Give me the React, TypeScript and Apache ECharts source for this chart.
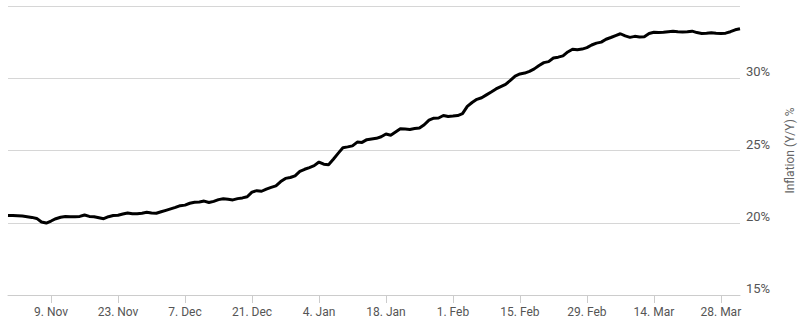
import React, { useEffect, useRef } from "react";
import * as echarts from "echarts";

const startDate = "2023-10-31";
const inflation: number[] = [
  20.51, 20.5, 20.48, 20.46, 20.42, 20.37, 20.3, 20.05, 19.98, 20.12,
  20.28, 20.38, 20.43, 20.42, 20.42, 20.44, 20.54, 20.44, 20.42, 20.35,
  20.28, 20.42, 20.5, 20.52, 20.6, 20.67, 20.62, 20.62, 20.66, 20.72,
  20.67, 20.66, 20.76, 20.86, 20.96, 21.06, 21.18, 21.22, 21.35, 21.42,
  21.44, 21.5, 21.4, 21.48, 21.6, 21.66, 21.62, 21.58, 21.67, 21.72,
  21.8, 22.12, 22.22, 22.18, 22.33, 22.45, 22.55, 22.85, 23.07, 23.13,
  23.25, 23.56, 23.7, 23.82, 23.95, 24.2, 24.05, 24.02, 24.4, 24.8,
  25.19, 25.25, 25.32, 25.58, 25.56, 25.75, 25.8, 25.84, 25.95, 26.14,
  26.06, 26.28, 26.5, 26.48, 26.46, 26.52, 26.55, 26.78, 27.1, 27.24,
  27.25, 27.42, 27.35, 27.38, 27.42, 27.55, 28.05, 28.32, 28.54, 28.65,
  28.85, 29.05, 29.26, 29.42, 29.58, 29.85, 30.15, 30.3, 30.36, 30.48,
  30.65, 30.88, 31.08, 31.15, 31.4, 31.46, 31.55, 31.82, 32.01, 31.98,
  32.02, 32.12, 32.3, 32.43, 32.5, 32.7, 32.82, 32.95, 33.08, 32.93,
  32.83, 32.9, 32.86, 32.88, 33.1, 33.18, 33.16, 33.18, 33.22, 33.26,
  33.22, 33.2, 33.22, 33.26, 33.16, 33.1, 33.12, 33.15, 33.12, 33.1,
  33.12, 33.22, 33.35, 33.42,
];
const tickLabels: string[] = [
  "9. Nov", "23. Nov", "7. Dec", "21. Dec", "4. Jan", "18. Jan",
  "1. Feb", "15. Feb", "29. Feb", "14. Mar", "28. Mar",
];
const yTicks: number[] = [15, 20, 25, 30, 35];
const yLabelsShown: number[] = [15, 20, 25, 30];
const yAxisName = "Inflation (Y/Y) %";

const MONTHS = ["Jan", "Feb", "Mar", "Apr", "May", "Jun", "Jul", "Aug", "Sep", "Oct", "Nov", "Dec"];

function buildDates(): string[] {
  const out: string[] = [];
  const d0 = new Date(startDate + "T00:00:00Z");
  for (let i = 0; i < inflation.length; i++) {
    const d = new Date(d0.getTime() + i * 86400000);
    out.push(d.getUTCDate() + ". " + MONTHS[d.getUTCMonth()]);
  }
  return out;
}

export default function App() {
  const ref = useRef<HTMLDivElement>(null);
  useEffect(() => {
    if (!ref.current) return;
    const chart = echarts.init(ref.current, undefined, { renderer: "svg" });
    const dates = buildDates();
    const showTick = (idx: number) => tickLabels.indexOf(dates[idx]) >= 0;
    chart.setOption({
      animation: false,
      grid: {
        left: 8,
        right: 60,
        top: 6,
        bottom: 38,
        containLabel: false,
        outerBoundsMode: "none",
      },
      xAxis: {
        type: "category",
        data: dates,
        boundaryGap: false,
        axisLine: { lineStyle: { color: "#cccccc", width: 1 } },
        axisTick: {
          show: true,
          length: 8,
          interval: (idx: number) => showTick(idx),
          lineStyle: { color: "#cccccc" },
        },
        axisLabel: {
          interval: (idx: number) => showTick(idx),
          color: "#555555",
          fontFamily: "Roboto",
          fontSize: 12,
          margin: 11,
        },
        splitLine: { show: false },
      },
      yAxis: {
        type: "value",
        position: "right",
        min: yTicks[0],
        max: yTicks[yTicks.length - 1],
        interval: 5,
        axisLine: { show: false },
        axisTick: { show: false },
        splitLine: { lineStyle: { color: "#d6d6d6", width: 1 } },
        axisLabel: {
          formatter: (v: number) => (yLabelsShown.indexOf(v) >= 0 ? v + "%" : ""),
          color: "#555555",
          fontFamily: "Roboto",
          fontSize: 13,
          margin: 6,
          verticalAlign: "bottom",
        },
        name: yAxisName,
        nameLocation: "middle",
        nameRotate: 90,
        nameGap: 44,
        nameTextStyle: { color: "#666666", fontFamily: "Roboto", fontSize: 12 },
      },
      series: [
        {
          type: "line",
          data: inflation,
          showSymbol: false,
          lineStyle: { color: "#000000", width: 3 },
          itemStyle: { color: "#000000" },
        },
      ],
    });
    return () => chart.dispose();
  }, []);
  return <div ref={ref} style={{ width: 800, height: 333, position: "absolute", left: 0, top: 0 }} />;
}
